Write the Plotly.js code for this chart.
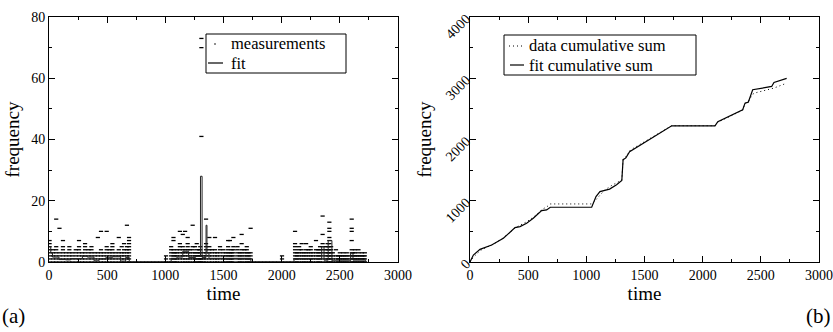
<!DOCTYPE html>
<html><head><meta charset="utf-8">
<script src="https://cdn.plot.ly/plotly-3.0.1.min.js"></script>
<style>body{margin:0;background:#fff}#g{width:833px;height:332px}</style>
</head><body><div id="g"></div>
<script>
// ---- panel (a): measurements (cluster times and the values seen in each cluster)
const measT = [5,35,62,90,120,148,175,200,230,258,285,310,340,365,393,420,447,470,496,520,545,572,600,625,645,670,688,
  715,745,775,805,835,865,895,925,955,985,1006,1030,
  1050,1070,1085,1100,1125,1150,1170,1192,1210,1235,1255,1270,1290,1300,1310,1330,1350,1378,1400,1427,1445,1470,1500,1520,1540,1555,1570,1585,1620,1640,1656,1680,1700,1715,1733,
  1760,1790,1820,1850,1880,1910,1940,1970,2003,2030,2060,2085,
  2115,2130,2150,2172,2190,2210,2230,2250,2270,2295,2315,2330,2352,2380,2395,2410,2425,2440,2467,2485,2500,2515,2530,2545,2560,2580,2602,2615,2630,2645,2660,2675,2690,2705,2715];
const measV = [
  [0,1,2,3,4,5,6,7],[0,1,2,3,4],[0,1,2,3,4,5,14],[0,1,2,3,11],[0,1,2,3,4,5,7],[0,1,2,3],[0,1,2,3,4,5],[0,1,2,3],[0,1,2,3,4],
  [0,1,2,3,4,5,7],[0,1,2,3],[0,1,2,3,4,5,6],[0,1,2,3,4],[0,1,2,3,4,5],[0,1,2,3],[0,1,2,3,8],[0,1,2,3,4,10],[0,1,2,3],[0,1,2,3,4,5,10],
  [0,1,2,3,4],[0,1,2,3,4,5,6],[0,1,2,3],[0,1,2,3,4,8],[0,1,2,3,5],[0,1,2,3,4,6],[0,1,2,3,4,5,12],[0,1,2,3,4,5,6,7,8],
  [0],[0],[0],[0],[0],[0],[0],[0],[0],[0],[0,1,2],[0],
  [0,1,2,3,4,5],[0,1,2,3,4,7,8],[0,1,2,3],[0,1,2,3,4],[0,1,2,3,4,5,6,10],[0,1,2,3,4,5,9],[0,1,2,3,4,10],
  [0,1,2,3,4,5,6,8],[0,1,2,3,4],[0,1,2,3,4,5,12],[0,1,2,3,5],[0,1,2,3,4,6],[0,1,2,3,4],[0,1,2,3,4,5],[0,1,2,41,70,73],[0,1,2,3],
  [0,1,2,3,4,5,6,14],[0,1,2,3,4,5,8],[0,1,2,3,4],[0,1,2,3,4,8],[0,1,2,3],[0,1,2,3,4,5],[0,1,2,3,4],[0,1,2,3],[0,1,2,3,4,5,7],
  [0,1,2,3,7],[0,1,2,3,4],[0,1,2,3,4,5,8],[0,1,2,3,4,5],[0,1,2,3],[0,1,2,3,4,6,9],[0,1,2,3,4],[0,1,2,3,4,5],[0,1,2,3],[0,1,2,3,11],
  [0],[0],[0],[0],[0],[0],[0],[0],[0,1,2],[0],[0],[0],
  [0,1,2,3,4,5,6,10],[0,1,2,3],[0,1,2,3,4,5],[0,1,2,3,4,6],[0,1,2,3],[0,1,2,3,4,6],[0,1,2,3,4],[0,1,2,3,4,5],[0,1,2,3],[0,1,2,3,4,7],
  [0,1,2,3,4],[0,1,2,3,4,5],[0,1,2,3,4,5,6,9,15],[0,1,2,3,4,5],[0,1,2,3,4,5,6],[0,1,2,3,4,5,6,7,8,10,11,13],[0,1,2,3,4,5],[0,1,2,3],
  [0,1,2,4],[0,1,2],[0,1,2,3],[0,1,2],[0,1,2,3],[0,1,2],[0,1,2,3],[0,1,2],[0,1,2,3,4,7,10,11,14],[0,1,2,3],[0,1,2,3,4],[0,1,2],[0,1,2,3,4],[0,1,2],[0,1,2,3],[0,1,2],[0,1,2,3]];
// ---- panel (a): fitted step function
const fitT = [0,15,30,86,143,186,287,330,387,430,487,544,616,659,690,1050,1100,1150,1200,1260,1302,1316,1350,1358,1375,1735,2106,2344,2364,2400,2432,2593,2613,2722,2735];
const fitV = [5,3,1.6,0.8,0.7,1.1,1.9,1.6,0.4,1,1.4,1.7,0.3,1.5,0,1.2,1.6,3.5,1.5,1.8,28,1.5,12,3,1.2,0,1.1,5,0.6,7,0.4,3,0.6,0,0];
// ---- panel (b): cumulative sums
const dataCumT = [0,30,90,150,200,290,330,390,430,490,550,620,660,690,1050,1100,1150,1200,1260,1305,1316,1340,1380,1500,1734,2106,2130,2344,2364,2392,2430,2450,2593,2613,2722];
const dataCumV = [0,80,190,250,290,400,470,560,600,660,740,860,900,948,948,1060,1160,1230,1290,1340,1680,1720,1830,1960,2225,2225,2280,2480,2590,2620,2740,2760,2820,2840,2920];
const fitCumT = [0,29,86,143,186,287,330,387,430,487,544,616,659,690,1046,1083,1117,1160,1200,1260,1305,1316,1340,1372,1734,2106,2130,2344,2364,2392,2430,2593,2613,2722];
const fitCumV = [0,114,207,250,278,387,469,561,578,632,714,839,850,894,894,1068,1150,1170,1190,1260,1330,1670,1700,1800,2223,2223,2290,2485,2594,2610,2812,2866,2932,2997];
// tick labels and legend names
const xTicks = [0,500,1000,1500,2000,2500,3000];
const yTicksA = [0,20,40,60,80];
const yTicksB = [0,1000,2000,3000,4000];
const namesA = ['measurements','fit'];
const namesB = ['data cumulative sum','fit cumulative sum'];

const mx = [], my = [];
measT.forEach((t,i)=>measV[i].forEach(v=>{mx.push(t);my.push(v);}));

const serif = "Liberation Serif";
const traces = [
  {x:mx,y:my,type:'scatter',mode:'markers',name:namesA[0],
   marker:{symbol:'line-ew',size:3,color:'#000',line:{color:'#000',width:1.3}},xaxis:'x',yaxis:'y'},
  {x:fitT,y:fitV,type:'scatter',mode:'lines',name:namesA[1],line:{shape:'hv',color:'#222',width:1},
   xaxis:'x',yaxis:'y'},
  {x:dataCumT,y:dataCumV,type:'scatter',mode:'lines',name:namesB[0],
   line:{color:'#000',width:1,dash:'1px,3px'},xaxis:'x2',yaxis:'y2'},
  {x:fitCumT,y:fitCumV,type:'scatter',mode:'lines',name:namesB[1],
   line:{color:'#000',width:1.2},xaxis:'x2',yaxis:'y2'}
];
function ax(extra){
  return Object.assign({showline:true,linecolor:'#000',linewidth:1,mirror:'ticks',ticks:'inside',
    ticklen:6,tickcolor:'#000',showgrid:false,zeroline:false,
    tickfont:{family:serif,size:14,color:'#000'}},extra);
}
const px = v=>v/833, py = v=>1-v/332;
const yd=[py(262),py(17)];
const tf = {family:serif,size:19,color:'#000'};
const lf = {family:serif,size:16.5,color:'#000'};
const shapes = [
  {type:'rect',xref:'paper',yref:'paper',x0:px(206),x1:px(346),y0:py(73),y1:py(34),line:{color:'#000',width:1}},
  {type:'circle',xref:'paper',yref:'paper',x0:px(214.2),x1:px(215.8),y0:py(44.8),y1:py(43.2),fillcolor:'#000',line:{width:0}},
  {type:'line',xref:'paper',yref:'paper',x0:px(208),x1:px(223),y0:py(63),y1:py(63),line:{color:'#000',width:1.2}},
  {type:'rect',xref:'paper',yref:'paper',x0:px(504),x1:px(696),y0:py(75),y1:py(35),line:{color:'#000',width:1}},
  {type:'line',xref:'paper',yref:'paper',x0:px(509),x1:px(523),y0:py(46),y1:py(46),line:{color:'#000',width:1,dash:'1px,3px'}},
  {type:'line',xref:'paper',yref:'paper',x0:px(510),x1:px(524),y0:py(65),y1:py(65),line:{color:'#000',width:1.2}}
];
const layout = {
  width:833,height:332,margin:{l:0,r:0,t:0,b:0},paper_bgcolor:'#fff',plot_bgcolor:'#fff',
  showlegend:false,shapes:shapes,
  xaxis:ax({domain:[px(49),px(398)],range:[0,3000],tickvals:xTicks,ticktext:xTicks.map(String),
    minor:{ticks:'inside',ticklen:3,dtick:250,tick0:0,tickcolor:'#000'},
    title:{text:'time',font:tf,standoff:0},anchor:'y'}),
  yaxis:ax({domain:yd,range:[0,80],tickvals:yTicksA,ticktext:yTicksA.map(String),
    minor:{ticks:'inside',ticklen:3,dtick:10,tick0:0,tickcolor:'#000'},
    title:{text:'frequency',font:tf,standoff:6},anchor:'x'}),
  xaxis2:ax({domain:[px(470),px(819)],range:[0,3000],tickvals:xTicks,ticktext:xTicks.map(String),
    minor:{ticks:'inside',ticklen:3,dtick:250,tick0:0,tickcolor:'#000'},
    title:{text:'time',font:tf,standoff:0},anchor:'y2'}),
  yaxis2:ax({domain:yd,range:[0,4000],tickvals:yTicksB,ticktext:yTicksB.map(String),tickangle:-45,
    minor:{ticks:'inside',ticklen:3,dtick:500,tick0:0,tickcolor:'#000'},
    title:{text:'frequency',font:tf,standoff:6},anchor:'x2'}),
  annotations:[
    {text:namesA[0],xref:'paper',yref:'paper',x:px(230),y:py(43.5),xanchor:'left',yanchor:'middle',showarrow:false,font:lf,borderpad:0},
    {text:namesA[1],xref:'paper',yref:'paper',x:px(230),y:py(63.5),xanchor:'left',yanchor:'middle',showarrow:false,font:lf,borderpad:0},
    {text:namesB[0],xref:'paper',yref:'paper',x:px(528),y:py(45),xanchor:'left',yanchor:'middle',showarrow:false,font:lf,borderpad:0},
    {text:namesB[1],xref:'paper',yref:'paper',x:px(528),y:py(65),xanchor:'left',yanchor:'middle',showarrow:false,font:lf,borderpad:0},
    {text:'(a)',xref:'paper',yref:'paper',x:0,y:py(316),xanchor:'left',yanchor:'middle',showarrow:false,
     font:{family:serif,size:21,color:'#000'}},
    {text:'(b)',xref:'paper',yref:'paper',x:1,y:py(316),xanchor:'right',yanchor:'middle',showarrow:false,
     font:{family:serif,size:21,color:'#000'}}
  ]
};
Plotly.newPlot('g',traces,layout,{staticPlot:true,displayModeBar:false});
</script></body></html>
